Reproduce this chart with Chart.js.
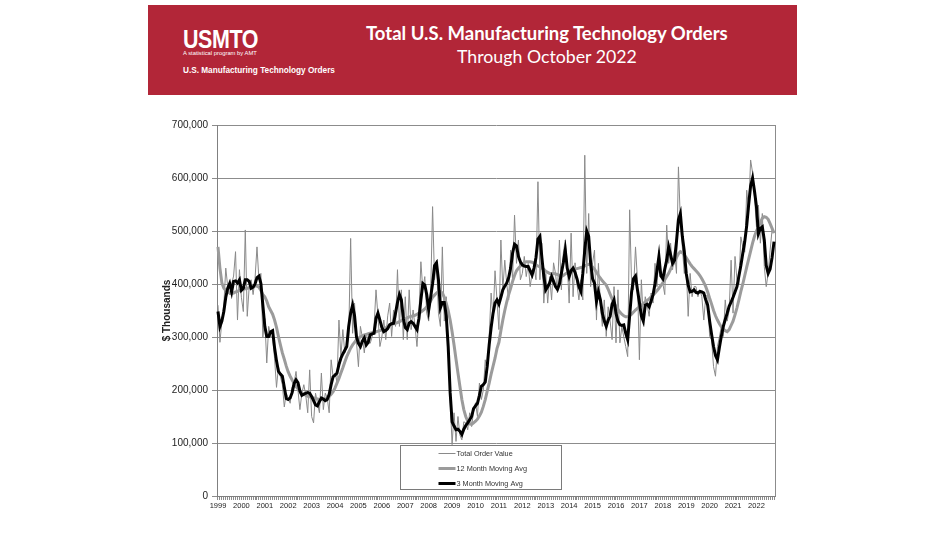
<!DOCTYPE html>
<html><head><meta charset="utf-8">
<script src="https://cdn.jsdelivr.net/npm/chart.js@4.4.0/dist/chart.umd.min.js"></script>
<style>
html,body{margin:0;padding:0;background:#fff;width:948px;height:533px;overflow:hidden;font-family:'Liberation Sans',Arial,sans-serif}
#c{position:absolute;left:0;top:0}
#banner{position:absolute;left:148px;top:5px;width:649px;height:90px;background:#B22638;z-index:2}
.t{position:absolute;color:#fff;white-space:nowrap;line-height:1}
</style></head><body>
<canvas id="c" width="948" height="533"></canvas>
<div id="banner">
  <div class="t" id="logo" style="font-family:'Liberation Sans',Arial,sans-serif;font-weight:bold;font-size:25px;letter-spacing:-0.5px">USMTO</div>
  <div class="t" id="tag" style="font-family:'Liberation Sans',Arial,sans-serif;">A statistical program by AMT</div>
  <div class="t" id="sub" style="font-family:'Liberation Sans',Arial,sans-serif;font-weight:bold;">U.S. Manufacturing Technology Orders</div>
  <div class="t" id="title1" style="font-family:Lato,'Open Sans',sans-serif;font-weight:bold;">Total U.S. Manufacturing Technology Orders</div>
  <div class="t" id="title2" style="font-family:Lato,'Open Sans',sans-serif;">Through October 2022</div>
</div>
<script>
// ---------------- DATA (values in $ millions; axis shows $ thousands) ----------------
const years = [1999,2000,2001,2002,2003,2004,2005,2006,2007,2008,2009,2010,2011,2012,2013,2014,2015,2016,2017,2018,2019,2020,2021,2022];
const monthsInLastYear = 10; // through October 2022

const totalOrders = [
  360,290,330,360,430,395,380,400,415,461,332,427,
  375,348,502,339,395,408,380,410,470,408,420,300,
  335,251,320,300,300,260,205,244,225,210,168,194,
  185,175,205,213,235,200,163,194,210,190,157,238,
  150,138,194,175,157,232,163,194,185,157,257,225,
  232,215,332,263,314,270,282,300,486,307,364,290,
  244,320,300,270,307,290,288,300,320,389,340,282,
  300,332,295,340,364,301,351,320,427,320,389,295,
  376,295,389,314,351,320,282,340,442,389,414,345,
  330,380,546,408,445,345,320,470,330,376,282,182,
  97,157,103,150,115,106,140,138,125,157,131,160,
  176,150,213,182,200,257,232,300,383,335,425,370,
  314,483,389,445,400,370,464,408,530,439,483,408,
  420,452,414,439,395,420,433,408,593,408,477,364,
  420,364,414,370,440,420,383,483,389,458,483,440,
  364,496,376,440,400,370,408,370,643,420,533,395,
  440,464,332,439,360,320,370,301,357,330,295,395,
  289,389,289,320,300,282,263,540,400,389,470,408,
  257,408,332,376,360,339,383,364,439,395,464,420,
  401,380,511,439,477,427,464,420,621,520,470,420,
  433,339,420,376,395,395,376,389,376,332,376,380,
  301,295,244,226,282,300,320,301,370,330,350,445,
  345,452,408,400,489,470,460,577,540,634,610,565,
  508,549,477,533,433,395,420,464,502,496
];

const movingAvg12 = [
  470,430,402,392,388,385,383,382,383,385,386,388,
  389,390,391,392,393,394,395,396,396,394,388,380,
  376,368,357,350,343,332,318,301,285,270,258,245,
  234,226,219,213,207,202,197,194,192,190,188,187,
  186,185,184,183,182,182,182,183,185,188,192,197,
  204,213,222,232,242,253,263,271,279,285,290,295,
  298,300,302,304,305,306,307,308,309,310,311,312,
  313,315,317,320,323,324,325,326,327,329,331,333,
  334,336,338,339,340,341,343,345,347,350,353,357,
  362,368,375,379,383,386,386,383,375,364,350,332,
  310,285,258,232,207,182,163,150,141,136,135,138,
  141,145,151,158,169,182,198,213,230,245,260,278,
  290,312,332,350,366,380,392,405,416,425,430,434,
  437,440,442,442,442,441,439,436,434,432,430,428,
  424,422,420,420,420,419,418,416,414,416,419,421,
  424,426,427,428,429,430,431,432,434,436,437,436,
  432,428,422,416,411,406,402,398,390,381,372,364,
  358,352,347,343,340,338,338,340,343,347,351,354,
  357,360,363,366,369,372,376,379,383,387,392,397,
  402,408,414,420,428,436,442,450,457,461,459,455,
  450,444,438,433,429,425,421,416,410,403,395,385,
  373,362,350,340,332,325,319,315,312,310,314,322,
  330,342,355,370,386,400,416,432,447,462,477,490,
  500,508,516,524,527,526,522,514,505,496
];

const movingAvg3 = [
  348,320,330,348,375,392,401,385,405,406,402,408,
  388,392,408,408,405,392,394,400,412,415,401,360,
  320,301,301,310,312,280,255,235,230,226,205,184,
  182,185,195,212,219,214,198,190,192,194,195,194,
  188,180,172,170,178,185,183,180,182,192,210,225,
  228,232,248,260,268,275,282,320,345,360,340,300,
  288,282,292,298,285,290,304,306,307,335,345,332,
  318,310,312,316,323,325,326,345,365,380,370,335,
  318,314,326,329,326,320,314,335,370,401,398,380,
  351,375,401,435,440,408,355,365,365,340,282,195,
  140,132,125,126,122,116,126,133,138,144,150,165,
  170,175,190,207,210,215,245,285,318,345,364,370,
  362,375,389,396,402,412,430,458,475,472,452,442,
  436,434,433,433,425,417,430,450,485,490,450,415,
  389,395,402,414,405,395,390,400,420,440,464,430,
  414,425,430,422,410,395,386,420,464,500,490,440,
  410,401,367,385,370,345,330,320,332,339,362,370,
  345,330,323,322,323,307,295,340,385,410,415,389,
  365,340,330,360,362,357,368,380,400,425,452,415,
  410,428,445,470,455,439,445,480,521,533,490,462,
  420,398,385,386,389,384,383,386,385,383,370,360,
  330,305,282,265,257,280,302,320,333,345,358,366,
  375,385,395,415,435,458,480,510,550,585,600,575,
  546,495,505,508,483,435,420,428,450,480
];

const seriesLabels = ['Total Order Value','12 Month Moving Avg','3 Month Moving Avg'];
const yTickMax = 700, yTickStep = 100;

// ---------------- categories ----------------
const months = [];
years.forEach((y, k) => {
  const n = (k === years.length - 1) ? monthsInLastYear : 12;
  for (let m = 1; m <= n; m++) months.push(y + '-' + String(m).padStart(2, '0'));
});

// ---------------- banner text placement ----------------
function place(id, opts) {
  const el = document.getElementById(id);
  if (opts.fs) el.style.fontSize = opts.fs + 'px';
  if (opts.w && !opts.scale) {
    el.style.fontSize = '20px';
    const w = el.getBoundingClientRect().width;
    el.style.fontSize = (20 * opts.w / w) + 'px';
  }
  if (opts.scale && opts.w) {
    el.style.transformOrigin = 'left center';
    el.style.transform = 'scaleX(' + (opts.w / el.offsetWidth) + ')';
  }
  const h = el.offsetHeight;
  el.style.top = (opts.cy - h / 2) + 'px';
  if (opts.cx !== undefined) el.style.left = (opts.cx - el.offsetWidth / 2) + 'px';
  else el.style.left = opts.left + 'px';
}
place('logo', {left: 35, cy: 34, w: 75, scale: true, fs: 26});
place('tag', {left: 35, cy: 48.5, w: 74});
place('sub', {left: 35, cy: 66, w: 152});
place('title1', {cx: 399, cy: 28, w: 362});
place('title2', {cx: 399, cy: 52, w: 180});

// ---------------- plugins ----------------
const frame = {
  id: 'frame',
  beforeDatasetsDraw(chart) {
    const {ctx, chartArea: a} = chart;
    ctx.save();
    ctx.strokeStyle = '#8c8c8c'; ctx.lineWidth = 1;
    ctx.beginPath();
    ctx.moveTo(Math.round(a.right) + 0.5, a.top);
    ctx.lineTo(Math.round(a.right) + 0.5, a.bottom);
    ctx.stroke();
    ctx.restore();
  }
};
const boxLegend = {
  id: 'boxLegend',
  afterDatasetsDraw(chart) {
    const {ctx, chartArea: a} = chart;
    const x = Math.round(a.left + 183) + 0.5, y = Math.round(a.bottom - 51) + 0.5, w = 161, h = 44;
    ctx.save();
    ctx.fillStyle = '#fff'; ctx.fillRect(x, y, w, h);
    ctx.strokeStyle = '#7a7a7a'; ctx.lineWidth = 1; ctx.strokeRect(x, y, w, h);
    const order = [2, 1, 0]; // dataset indices: raw, 12MA, 3MA
    order.forEach((di, r) => {
      const ds = chart.data.datasets[di];
      const yy = y + 8 + r * 15;
      ctx.strokeStyle = ds.borderColor; ctx.lineWidth = ds.borderWidth;
      ctx.beginPath(); ctx.moveTo(x + 38, yy); ctx.lineTo(x + 55, yy); ctx.stroke();
      ctx.fillStyle = '#333'; ctx.font = '7.3px "Liberation Sans", Arial, sans-serif';
      ctx.textBaseline = 'middle'; ctx.textAlign = 'left';
      ctx.fillText(ds.label, x + 56, yy + 0.5);
    });
    ctx.restore();
  }
};

Chart.defaults.font.family = "'Liberation Sans', Arial, sans-serif";

new Chart(document.getElementById('c'), {
  type: 'line',
  data: {
    labels: months,
    datasets: [
      {label: seriesLabels[2], data: movingAvg3, borderColor: '#000000', borderWidth: 3, pointRadius: 0, tension: 0, order: 1},
      {label: seriesLabels[1], data: movingAvg12, borderColor: '#9b9b9b', borderWidth: 3, pointRadius: 0, tension: 0, order: 2},
      {label: seriesLabels[0], data: totalOrders, borderColor: '#8a8a8a', borderWidth: 1, pointRadius: 0, tension: 0, order: 3}
    ]
  },
  options: {
    responsive: false,
    animation: false,
    layout: {padding: {left: 161, top: 125, right: 173, bottom: 0}},
    plugins: {legend: {display: false}, tooltip: {enabled: false}},
    scales: {
      x: {
        type: 'category',
        offset: true,
        afterFit(s) { s.height = 37; },
        border: {display: true, color: '#808080', width: 1},
        grid: {drawOnChartArea: false, drawTicks: true, tickLength: 4, color: '#8c8c8c'},
        ticks: {
          autoSkip: false, maxRotation: 0, minRotation: 0, padding: 1,
          color: '#222', font: {size: 7.5},
          callback(v, i) { const l = months[i]; return l.endsWith('-01') ? l.slice(0, 4) : ''; }
        }
      },
      y: {
        min: 0, max: yTickMax,
        afterFit(s) { s.width = 56; },
        border: {display: true, color: '#808080', width: 1},
        grid: {color: '#8c8c8c', lineWidth: 1, tickLength: 5},
        title: {display: true, text: '$ Thousands', color: '#222', font: {size: 10, weight: 'bold'}, padding: {top: 0, bottom: 0}},
        ticks: {
          stepSize: yTickStep, padding: 4, color: '#222', font: {size: 10},
          callback(v) { return (v * 1000).toLocaleString('en-US'); }
        }
      }
    }
  },
  plugins: [frame, boxLegend]
});
</script>
</body></html>
